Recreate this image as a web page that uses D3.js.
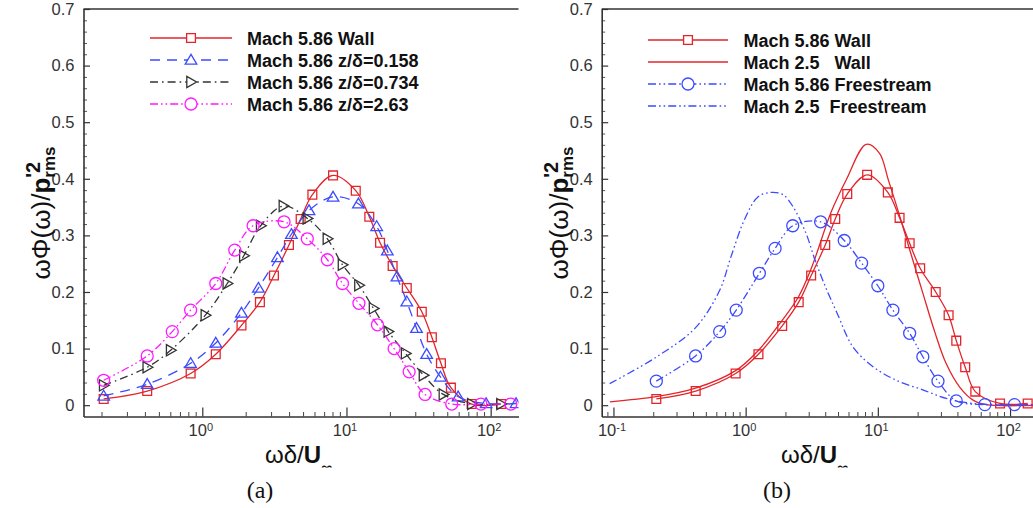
<!DOCTYPE html>
<html><head><meta charset="utf-8">
<script src="https://cdn.jsdelivr.net/npm/d3@7"></script>
<style>
body{margin:0;background:#fff}
svg{display:block}
text{font-family:"Liberation Sans",Arial,Helvetica,sans-serif}
</style>
</head><body>
<svg id="c" width="1033" height="508"></svg>
<script>
// ---------------- data ----------------
// panel (a)
const wallA_x = [0.207,0.415,0.83,1.24,1.87,2.51,3.14,3.99,4.81,5.8,8.07,11.6,14.4,17.1,20.9,26.2,33.3,39.1,45.2,53,73.8,118];
const wallA_y = [0.011,0.025,0.056,0.090,0.141,0.182,0.229,0.283,0.329,0.372,0.406,0.379,0.333,0.287,0.246,0.207,0.165,0.120,0.074,0.031,0.002,0.002];
const z158_x = [0.207,0.415,0.83,1.24,1.87,2.45,3.32,4.15,5.5,8.07,12.1,16.2,19.2,22.4,26.2,30.6,36,44.8,59.5,93,150];
const z158_y = [0.0165,0.037,0.074,0.110,0.163,0.207,0.261,0.302,0.344,0.368,0.356,0.316,0.273,0.227,0.183,0.136,0.090,0.050,0.015,0.003,0.003];
const z734_x = [0.207,0.415,0.603,1.05,1.49,1.94,2.54,3.65,5.35,7.37,9.38,12.2,15.4,19.5,25.7,34.2,47,74,118];
const z734_y = [0.035,0.067,0.097,0.159,0.215,0.264,0.317,0.352,0.330,0.294,0.248,0.212,0.171,0.130,0.0915,0.053,0.019,0.002,0.002];
const z263_x = [0.207,0.415,0.619,0.83,1.24,1.68,2.25,3.69,5.35,7.37,9.38,12.2,16.4,21.4,27.2,35.1,53.7,85.6,138];
const z263_y = [0.044,0.087,0.130,0.168,0.215,0.274,0.317,0.324,0.294,0.257,0.215,0.180,0.142,0.100,0.059,0.019,0.002,0.002,0.002];
// panel (b)
const wallB_x = [0.211,0.419,0.84,1.25,1.89,2.52,3.13,4.0,4.76,5.87,8.3,11.9,14.6,17.4,20.9,27.4,34.3,39.2,45.8,54.6,84,136];
const wallB_y = [0.011,0.025,0.056,0.090,0.140,0.182,0.229,0.283,0.329,0.373,0.407,0.376,0.331,0.286,0.242,0.200,0.159,0.114,0.067,0.024,0.003,0.003];
const wall25_x = [0.094,0.211,0.418,0.84,1.25,1.89,2.52,3.14,4.45,5.76,8.18,10.3,12.0,14.6,17.4,21.9,26.9,32.8,41.6,52.5,66,160];
const wall25_y = [0.006,0.015,0.030,0.061,0.097,0.150,0.192,0.242,0.342,0.398,0.461,0.445,0.398,0.335,0.275,0.198,0.130,0.074,0.032,0.009,0.001,0];
const free586_x = [0.211,0.418,0.636,0.849,1.27,1.67,2.27,3.69,5.57,7.54,10,13,17.4,21.9,28.5,39.2,64.5,108,178];
const free586_y = [0.0425,0.087,0.130,0.168,0.233,0.277,0.317,0.324,0.291,0.251,0.211,0.168,0.127,0.0855,0.0425,0.0076,0.001,0.001,0.001];
const free25_x = [0.0936,0.211,0.418,0.636,0.774,0.989,1.239,1.553,1.914,2.278,2.858,3.342,4.05,4.91,6.48,9.19,13.8,21.9,32.9,52.4,100,160];
const free25_y = [0.038,0.085,0.137,0.203,0.262,0.330,0.368,0.376,0.372,0.351,0.304,0.257,0.207,0.163,0.103,0.068,0.044,0.027,0.012,0.003,0.001,0.001];

// tick values / labels
const yTickValues = [0,0.1,0.2,0.3,0.4,0.5,0.6,0.7];
const xTicksA = [1,10,100];
const xTicksB = [0.1,1,10,100];
const legendA = ["Mach 5.86 Wall","Mach 5.86 z/δ=0.158","Mach 5.86 z/δ=0.734","Mach 5.86 z/δ=2.63"];
const legendB = ["Mach 5.86 Wall","Mach 2.5   Wall","Mach 5.86 Freestream","Mach 2.5  Freestream"];

// ---------------- styles ----------------
const RED="#e3242b", BLUE="#3d4bff", MAG="#ff1aff", BLK="#333333";
const DDOT="8,3,1.6,3,1.6,3";

const seriesA = [
  {x:wallA_x,y:wallA_y,color:RED,dash:null,marker:"square",label:legendA[0]},
  {x:z158_x,y:z158_y,color:BLUE,dash:"10,7",marker:"tri",label:legendA[1]},
  {x:z734_x,y:z734_y,color:BLK,dash:"8,4,1.6,4",marker:"rtri",label:legendA[2]},
  {x:z263_x,y:z263_y,color:MAG,dash:DDOT,marker:"circle",label:legendA[3]}
];
const seriesB = [
  {x:wallB_x,y:wallB_y,color:RED,dash:null,marker:"square",label:legendB[0]},
  {x:wall25_x,y:wall25_y,color:RED,dash:null,marker:null,label:legendB[1]},
  {x:free586_x,y:free586_y,color:BLUE,dash:DDOT,marker:"circle",label:legendB[2]},
  {x:free25_x,y:free25_y,color:BLUE,dash:DDOT,marker:null,label:legendB[3]}
];

const panels = [
  {x0:83.5,x1:518.5,dom:[0.15,156],xt:xTicksA,series:seriesA,
   leg:{lx0:150,lx1:232,tx:247,y0:38,dy:22},cap:"(a)",capX:260,labX:265,ylabX:50},
  {x0:601.7,x1:1036.3,dom:[0.0815,158],xt:xTicksB,series:seriesB,
   leg:{lx0:648,lx1:728,tx:743.5,y0:40,dy:22},cap:"(b)",capX:777,labX:781,ylabX:568}
];

const yTop=9, yBot=416.5;
const svg=d3.select("#c");

function markerPath(type){
  switch(type){
    case "square": return "M-4.4,-4.4H4.4V4.4H-4.4Z";
    case "tri": return "M0,-5.6L5.8,4.2L-5.8,4.2Z";
    case "rtri": return "M-4.2,-5.6L5.6,0L-4.2,5.6Z";
    case "circle": return "M6,0A6,6 0 1,1 -6,0A6,6 0 1,1 6,0Z";
  }
  return null;
}

panels.forEach((p,pi)=>{
  const x=d3.scaleLog().domain(p.dom).range([p.x0,p.x1]);
  const y=d3.scaleLinear().domain([-0.02,0.7]).range([yBot,yTop]);
  const g=svg.append("g");

  const cid="clip"+pi;
  svg.append("clipPath").attr("id",cid).append("rect")
    .attr("x",p.x0).attr("y",yTop).attr("width",p.x1-p.x0).attr("height",yBot-yTop);

  // minor y ticks
  const yMinor=d3.range(0,0.7001,0.02).filter(v=>Math.abs(v*10-Math.round(v*10))>1e-6);
  g.append("g").attr("transform",`translate(${p.x0},0)`)
    .call(d3.axisLeft(y).tickValues(yMinor).tickSizeInner(-3.5).tickSizeOuter(0).tickFormat(""))
    .call(a=>a.select(".domain").remove())
    .selectAll("line").attr("stroke","#555").attr("stroke-width",1);
  // major y
  const ya=g.append("g").attr("transform",`translate(${p.x0},0)`)
    .call(d3.axisLeft(y).tickValues(yTickValues).tickSizeInner(-6.5).tickSizeOuter(0).tickPadding(9)
      .tickFormat(d=>d===0?"0":d3.format(".1f")(d)));
  ya.select(".domain").attr("stroke","#333").attr("stroke-width",1.6);
  ya.selectAll("line").attr("stroke","#333").attr("stroke-width",1.2);
  ya.selectAll("text").attr("font-size",16.5).attr("fill","#333")
    .style("font-family",'"Liberation Sans",Arial,sans-serif');

  // minor x ticks
  const lo=Math.floor(Math.log10(p.dom[0])), hi=Math.ceil(Math.log10(p.dom[1]));
  const xMinor=[];
  for(let e=lo;e<=hi;e++) for(let m=2;m<=9;m++){const v=m*Math.pow(10,e); if(v>=p.dom[0]&&v<=p.dom[1]) xMinor.push(v);}
  g.append("g").attr("transform",`translate(0,${yBot})`)
    .call(d3.axisBottom(x).tickValues(xMinor).tickSizeInner(-4.5).tickSizeOuter(0).tickFormat(""))
    .call(a=>a.select(".domain").remove())
    .selectAll("line").attr("stroke","#444").attr("stroke-width",1);
  const xa=g.append("g").attr("transform",`translate(0,${yBot})`)
    .call(d3.axisBottom(x).tickValues(p.xt).tickSizeInner(-9).tickSizeOuter(0).tickPadding(8).tickFormat(""));
  xa.select(".domain").attr("stroke","#333").attr("stroke-width",1.6);
  xa.selectAll("line").attr("stroke","#333").attr("stroke-width",1.2);
  xa.selectAll(".tick text").attr("font-size",16.5).attr("fill","#333").attr("x",-2)
    .style("font-family",'"Liberation Sans",Arial,sans-serif')
    .each(function(d){
      const t=d3.select(this);
      t.append("tspan").text("10");
      t.append("tspan").attr("dy","-0.5em").attr("font-size",11).text(Math.round(Math.log10(d)));
    });

  // top spine
  g.append("line").attr("x1",p.x0).attr("x2",p.x1).attr("y1",yTop).attr("y2",yTop)
    .attr("stroke","#333").attr("stroke-width",1.6);

  // series
  const plot=g.append("g").attr("clip-path",`url(#${cid})`);
  const line=d3.line().x(d=>x(d[0])).y(d=>y(d[1])).curve(d3.curveCatmullRom.alpha(0.5));
  p.series.forEach(s=>{
    const pts=s.x.map((v,i)=>[v,s.y[i]]);
    plot.append("path").attr("d",line(pts)).attr("fill","none")
      .attr("stroke",s.color).attr("stroke-width",1.3)
      .attr("stroke-dasharray",s.dash);
    if(s.marker){
      plot.selectAll(null).data(pts).enter().append("path")
        .attr("d",markerPath(s.marker))
        .attr("transform",d=>`translate(${x(d[0])},${y(d[1])})`)
        .attr("fill","none").attr("stroke",s.color).attr("stroke-width",1.3);
    }
  });

  // legend
  const L=p.leg;
  p.series.forEach((s,i)=>{
    const cy=L.y0+i*L.dy;
    g.append("line").attr("x1",L.lx0).attr("x2",L.lx1).attr("y1",cy).attr("y2",cy)
      .attr("stroke",s.color).attr("stroke-width",1.3).attr("stroke-dasharray",s.dash);
    if(s.marker){
      g.append("path").attr("d",markerPath(s.marker))
        .attr("transform",`translate(${(L.lx0+L.lx1)/2},${cy})`)
        .attr("fill","#fff").attr("stroke",s.color).attr("stroke-width",1.3);
    }
    g.append("text").attr("x",L.tx).attr("y",cy+6.5)
      .attr("font-size",18).attr("font-weight","bold").attr("fill","#111")
      .style("white-space","pre").text(s.label);
  });

  // y label
  const yl=g.append("text").attr("transform",`translate(${p.ylabX},213) rotate(-90)`)
    .attr("font-size",26).attr("fill","#111");
  const t0=yl.append("tspan").text("ωΦ(ω)/");
  yl.append("tspan").attr("font-weight","bold").text("p");
  const sup=yl.append("tspan").attr("font-weight","bold").attr("font-size",20).attr("dy",-10).text("'2");
  const supW=sup.node().getComputedTextLength();
  yl.append("tspan").attr("font-weight","bold").attr("font-size",17).attr("dy",15).attr("dx",-supW).text("rms");
  const bb=yl.node().getBBox();
  t0.attr("x",-bb.width/2);

  // x label (subscript clipped at the bottom like the source)
  const xcid="xclip"+pi;
  svg.append("clipPath").attr("id",xcid).append("rect")
    .attr("x",p.labX-10).attr("y",430).attr("width",140).attr("height",37.5);
  const xl=g.append("text").attr("clip-path",`url(#${xcid})`)
    .attr("x",p.labX).attr("y",463).attr("font-size",24).attr("fill","#111");
  xl.append("tspan").text("ωδ/");
  xl.append("tspan").attr("font-weight","bold").text("U");
  xl.append("tspan").attr("font-size",16).attr("dy",10).attr("font-weight","bold").text("∞");

  // caption
  g.append("text").attr("x",p.capX).attr("y",498).attr("text-anchor","middle")
    .attr("font-size",24).style("font-family",'"Liberation Serif","Times New Roman",serif')
    .attr("fill","#111").text(p.cap);
});
</script>
</body></html>
